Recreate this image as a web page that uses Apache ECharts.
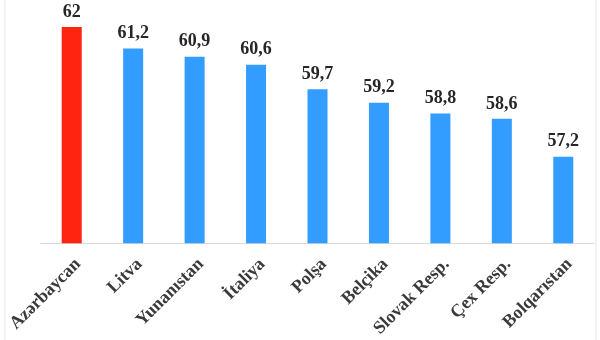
<!DOCTYPE html>
<html><head><meta charset="utf-8">
<script src="https://cdn.jsdelivr.net/npm/echarts@6/dist/echarts.min.js"></script>
<style>html,body{margin:0;padding:0;background:#fff}#c{width:600px;height:340px}</style>
</head><body><div id="c"></div>
<script>
const categories = ['Azərbaycan','Litva','Yunanıstan','İtaliya','Polşa','Belçika','Slovak Resp.','Çex Resp.','Bolqarıstan'];
const values = [62, 61.2, 60.9, 60.6, 59.7, 59.2, 58.8, 58.6, 57.2];
const highlight = 'Azərbaycan';
const chart = echarts.init(document.getElementById('c'), null, {renderer:'canvas'});
chart.setOption({
  animation:false,
  backgroundColor:'#fff',
  grid:{left:41, right:6, top:27, bottom:96},
  xAxis:{type:'category', data:categories,
    axisLine:{lineStyle:{color:'#d9d9d9', width:1}},
    axisTick:{show:false},
    axisLabel:{interval:0, rotate:45, margin:12, align:'right', verticalAlign:'top', color:'#3a3a3a', fontFamily:'Liberation Serif', fontWeight:'bold', fontSize:18}
  },
  yAxis:{type:'value', min:54, max:62, show:false, splitLine:{show:false}},
  series:[{type:'bar', barWidth:20,
    data:values.map((v,i)=>({value:v, itemStyle:{color: categories[i]===highlight ? '#FF2410' : '#339CFF'}})),
    label:{show:true, position:'top', distance:6, color:'#262626', fontFamily:'Liberation Serif', fontWeight:'bold', fontSize:18,
      formatter:p=>String(p.value).replace('.',',')}
  }],
  graphic:[
    {type:'line', shape:{x1:5,y1:0,x2:5,y2:340}, style:{stroke:'#e6e6e6', lineWidth:1}},
    {type:'line', shape:{x1:596,y1:0,x2:596,y2:340}, style:{stroke:'#e6e6e6', lineWidth:1}}
  ]
});
</script></body></html>
